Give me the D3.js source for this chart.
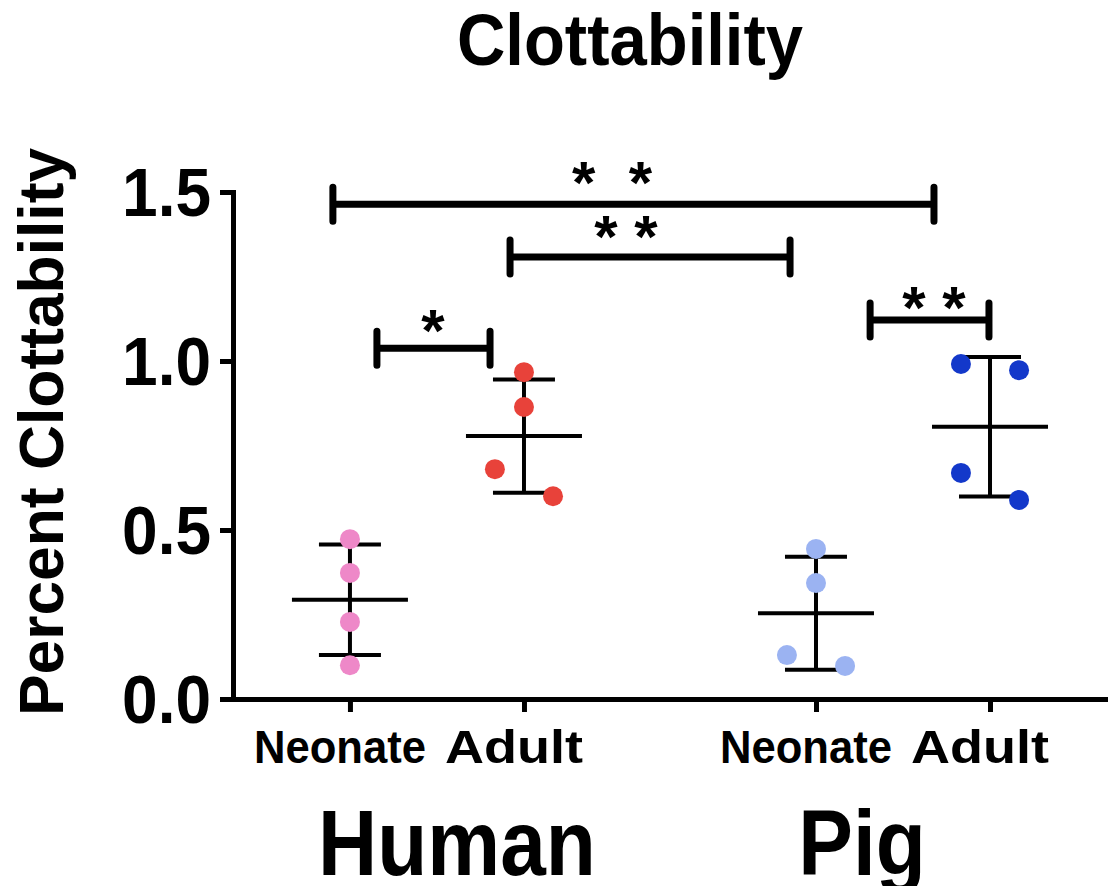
<!DOCTYPE html>
<html>
<head>
<meta charset="utf-8">
<script src="https://cdn.jsdelivr.net/npm/d3@7"></script>
<style>
  html, body { margin: 0; padding: 0; background: #fff; }
  text { font-family: "Liberation Sans", Arial, sans-serif; font-weight: bold; fill: #000; }
</style>
</head>
<body>
<svg id="chart"></svg>
<script>
// data
const groups = ["Human", "Pig"];
const subLabels = ["Neonate", "Adult"];
const seriesNames = ["Human Neonate", "Human Adult", "Pig Neonate", "Pig Adult"];
const seriesColors = ["#ee88c8", "#e8423a", "#9bb3f2", "#1338ca"];
const humanNeonate = [0.473, 0.373, 0.228, 0.100];
const humanAdult = [0.967, 0.864, 0.680, 0.600];
const pigNeonate = [0.444, 0.343, 0.130, 0.098];
const pigAdult = [0.991, 0.973, 0.669, 0.589];
// horizontal scatter of each point: -1 left, 0 centre, 1 right
const humanNeonateJitter = [0, 0, 0, 0];
const humanAdultJitter = [0, 0, -1, 1];
const pigNeonateJitter = [0, 0, -1, 1];
const pigAdultJitter = [-1, 1, -1, 1];
const yTicks = [0, 0.5, 1.0, 1.5];
// significance brackets, x in category slots (0 = Human Neonate, 1 = Human Adult ...)
const brackets = [
  { x1: 0.155, x2: 0.805, y: 1.038, label: "*", labelX: 0.477, labelY: 1.115 },
  { x1: 0.92, x2: 2.529, y: 1.308, label: "* *", labelX: 1.586, labelY: 1.393 },
  { x1: -0.098, x2: 3.356, y: 1.464, label: "*  *", labelX: 1.506, labelY: 1.553 },
  { x1: 2.989, x2: 3.672, y: 1.121, label: "* *", labelX: 3.356, labelY: 1.183 }
];

const width = 1108, height = 886;
const groupGap = 2.678; // slot offset between Human and Pig

const svg = d3.select("#chart").attr("width", width).attr("height", height);

const x = d3.scaleLinear().domain([-0.672, 4.356]).range([233, width]);
const y = d3.scaleLinear().domain([0, 1.5]).range([699, 192]);

const series = [
  { values: humanNeonate, jitter: humanNeonateJitter },
  { values: humanAdult, jitter: humanAdultJitter },
  { values: pigNeonate, jitter: pigNeonateJitter },
  { values: pigAdult, jitter: pigAdultJitter }
].map((s, i) => {
  const g = Math.floor(i / 2), j = i % 2;
  return {
    name: seriesNames[i],
    color: seriesColors[i],
    group: g,
    sub: j,
    pos: g * groupGap + j,
    values: s.values,
    jitter: s.jitter,
    mean: d3.mean(s.values),
    sd: d3.deviation(s.values)
  };
});

// stretched text helper
function label(sel, txt, px, py, size, anchor, k) {
  return sel.append("text")
    .attr("transform", `translate(${px},${py}) scale(1,${k || 1})`)
    .attr("text-anchor", anchor || "middle")
    .style("font-size", size + "px")
    .style("white-space", "pre")
    .text(txt);
}

// title
label(svg, "Clottability", 630, 65, 67, "middle", 1.07);

// y axis
const yAxis = svg.append("g")
  .attr("transform", `translate(${x.range()[0]},0)`)
  .call(d3.axisLeft(y).tickValues(yTicks).tickFormat(d3.format(".1f")).tickSize(13).tickSizeOuter(0).tickPadding(9));
yAxis.attr("font-size", null).attr("font-family", null);
yAxis.select(".domain").attr("stroke-width", 5).attr("stroke-linecap", "square");
yAxis.selectAll(".tick line").attr("stroke-width", 5);
yAxis.selectAll(".tick text")
  .attr("dy", null)
  .attr("dominant-baseline", "central")
  .style("font-size", "64px")
  .attr("transform", "scale(1,1.08)");

// y axis title
svg.append("text")
  .attr("transform", `translate(63,432) rotate(-90) scale(0.99,1)`)
  .attr("text-anchor", "middle")
  .style("font-size", "63px")
  .text("Percent Clottability");

// x axis
const xAxis = svg.append("g")
  .attr("transform", `translate(0,${y(0)})`)
  .call(d3.axisBottom(x).tickValues(series.map(s => s.pos)).tickFormat("").tickSize(13).tickSizeOuter(0));
xAxis.select(".domain").attr("stroke-width", 5).attr("stroke-linecap", "square");
xAxis.selectAll(".tick line").attr("stroke-width", 5);

// category labels
series.forEach(s => {
  svg.append("text")
    .attr("transform", `translate(${x(s.pos) - 10},763) scale(1,1.06)`)
    .attr("text-anchor", "middle")
    .attr("textLength", s.sub === 0 ? 172 : 138)
    .attr("lengthAdjust", "spacingAndGlyphs")
    .style("font-size", "43px")
    .text(subLabels[s.sub]);
});

// group labels
const groupLabelX = [0.615, 2.943];
groups.forEach((g, i) => {
  label(svg, g, x(groupLabelX[i]), 875, 82, "middle", 1.12);
});

// error bars: mean line and SD
const bars = svg.append("g").attr("stroke", "#000").attr("stroke-width", 4);
series.forEach(s => {
  const cx = x(s.pos);
  bars.append("line").attr("x1", cx).attr("x2", cx)
    .attr("y1", y(s.mean + s.sd)).attr("y2", y(s.mean - s.sd));
  bars.append("line").attr("x1", cx - 58).attr("x2", cx + 58)
    .attr("y1", y(s.mean)).attr("y2", y(s.mean));
  [s.mean + s.sd, s.mean - s.sd].forEach(v => {
    bars.append("line").attr("x1", cx - 31).attr("x2", cx + 31)
      .attr("y1", y(v)).attr("y2", y(v));
  });
});

// points
const jitterStep = 0.167;
series.forEach(s => {
  svg.append("g").selectAll("circle")
    .data(s.values)
    .join("circle")
    .attr("cx", (d, i) => x(s.pos + s.jitter[i] * jitterStep))
    .attr("cy", d => y(d))
    .attr("r", 10)
    .attr("fill", s.color);
});

// significance brackets
const sig = svg.append("g");
brackets.forEach(b => {
  const yy = y(b.y);
  sig.append("path")
    .attr("d", `M${x(b.x1)},${yy}H${x(b.x2)}M${x(b.x1)},${yy - 17}V${yy + 17}M${x(b.x2)},${yy - 17}V${yy + 17}`)
    .attr("fill", "none")
    .attr("stroke", "#000")
    .attr("stroke-width", 7)
    .attr("stroke-linecap", "round");
  sig.append("text")
    .attr("x", x(b.labelX))
    .attr("y", y(b.labelY) + 29)
    .attr("text-anchor", "middle")
    .style("font-size", "60px")
    .style("white-space", "pre")
    .text(b.label);
});
</script>
</body>
</html>
